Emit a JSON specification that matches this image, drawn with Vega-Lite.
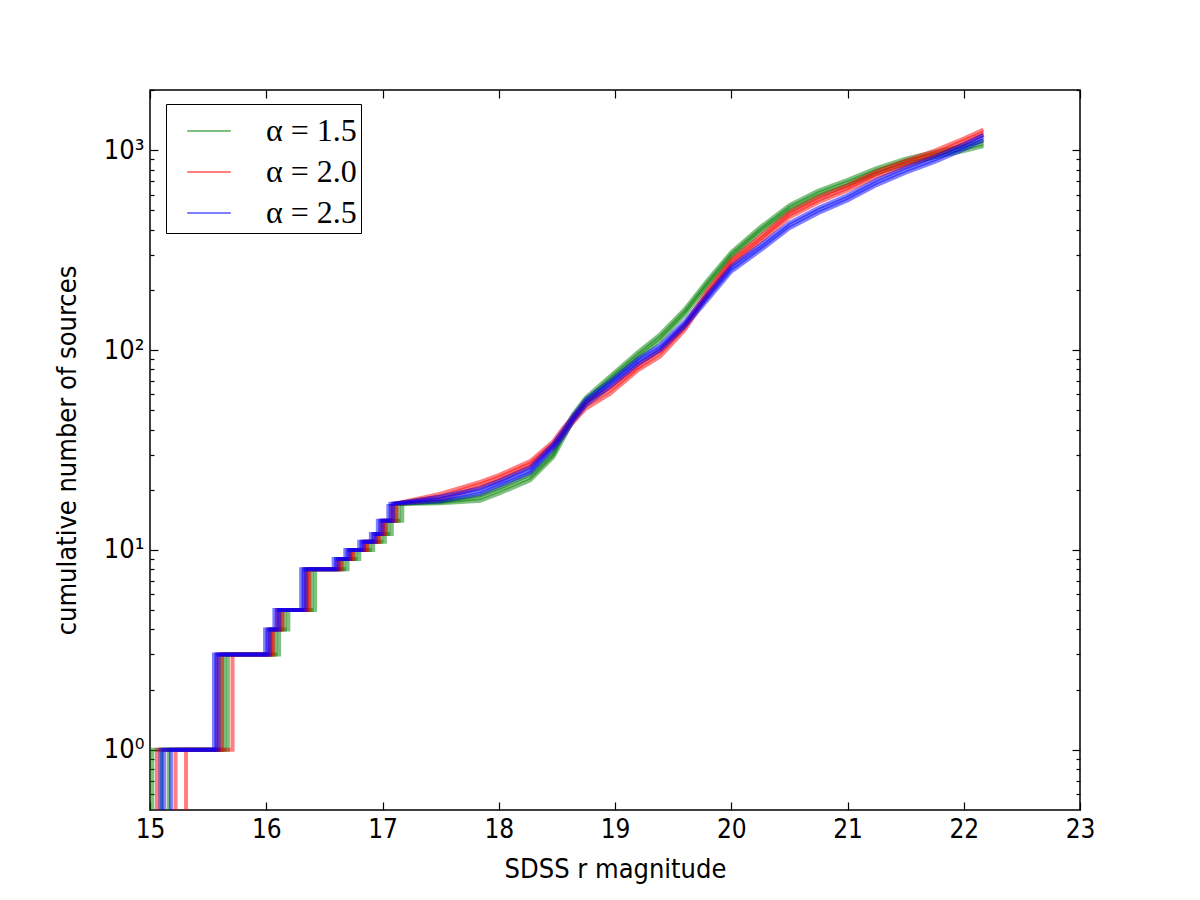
{
  "$schema": "https://vega.github.io/schema/vega-lite/v6.json",
  "width": 930,
  "height": 720,
  "autosize": {"type": "none"},
  "padding": {"left": 150, "top": 90, "right": 120, "bottom": 90},
  "background": "white",
  "config": {"view": {"stroke": "black", "strokeWidth": 1.5}, "font": "DejaVu Sans Condensed"},
  "datasets": {
    "steps": [
      {"a":"α = 1.5","r":"g1","x":15.02,"n":0.4},{"a":"α = 1.5","r":"g1","x":15.02,"n":1},{"a":"α = 1.5","r":"g1","x":15.61,"n":3},{"a":"α = 1.5","r":"g1","x":16.05,"n":4},{"a":"α = 1.5","r":"g1","x":16.13,"n":5},{"a":"α = 1.5","r":"g1","x":16.36,"n":8},{"a":"α = 1.5","r":"g1","x":16.64,"n":9},{"a":"α = 1.5","r":"g1","x":16.74,"n":10},{"a":"α = 1.5","r":"g1","x":16.86,"n":11},{"a":"α = 1.5","r":"g1","x":16.96,"n":12},{"a":"α = 1.5","r":"g1","x":17.02,"n":14},{"a":"α = 1.5","r":"g1","x":17.11,"n":17},
      {"a":"α = 1.5","r":"g2","x":15.10,"n":0.4},{"a":"α = 1.5","r":"g2","x":15.10,"n":1},{"a":"α = 1.5","r":"g2","x":15.64,"n":3},{"a":"α = 1.5","r":"g2","x":16.08,"n":4},{"a":"α = 1.5","r":"g2","x":16.16,"n":5},{"a":"α = 1.5","r":"g2","x":16.39,"n":8},{"a":"α = 1.5","r":"g2","x":16.67,"n":9},{"a":"α = 1.5","r":"g2","x":16.77,"n":10},{"a":"α = 1.5","r":"g2","x":16.89,"n":11},{"a":"α = 1.5","r":"g2","x":16.99,"n":12},{"a":"α = 1.5","r":"g2","x":17.05,"n":14},{"a":"α = 1.5","r":"g2","x":17.14,"n":17},
      {"a":"α = 1.5","r":"g3","x":15.16,"n":0.4},{"a":"α = 1.5","r":"g3","x":15.16,"n":1},{"a":"α = 1.5","r":"g3","x":15.67,"n":3},{"a":"α = 1.5","r":"g3","x":16.11,"n":4},{"a":"α = 1.5","r":"g3","x":16.19,"n":5},{"a":"α = 1.5","r":"g3","x":16.42,"n":8},{"a":"α = 1.5","r":"g3","x":16.70,"n":9},{"a":"α = 1.5","r":"g3","x":16.80,"n":10},{"a":"α = 1.5","r":"g3","x":16.92,"n":11},{"a":"α = 1.5","r":"g3","x":17.02,"n":12},{"a":"α = 1.5","r":"g3","x":17.08,"n":14},{"a":"α = 1.5","r":"g3","x":17.17,"n":17},
      {"a":"α = 2.0","r":"r1","x":15.06,"n":0.4},{"a":"α = 2.0","r":"r1","x":15.06,"n":1},{"a":"α = 2.0","r":"r1","x":15.58,"n":3},{"a":"α = 2.0","r":"r1","x":16.02,"n":4},{"a":"α = 2.0","r":"r1","x":16.10,"n":5},{"a":"α = 2.0","r":"r1","x":16.33,"n":8},{"a":"α = 2.0","r":"r1","x":16.61,"n":9},{"a":"α = 2.0","r":"r1","x":16.71,"n":10},{"a":"α = 2.0","r":"r1","x":16.83,"n":11},{"a":"α = 2.0","r":"r1","x":16.93,"n":12},{"a":"α = 2.0","r":"r1","x":16.99,"n":14},{"a":"α = 2.0","r":"r1","x":17.08,"n":17},
      {"a":"α = 2.0","r":"r2","x":15.22,"n":0.4},{"a":"α = 2.0","r":"r2","x":15.22,"n":1},{"a":"α = 2.0","r":"r2","x":15.62,"n":3},{"a":"α = 2.0","r":"r2","x":16.06,"n":4},{"a":"α = 2.0","r":"r2","x":16.14,"n":5},{"a":"α = 2.0","r":"r2","x":16.37,"n":8},{"a":"α = 2.0","r":"r2","x":16.65,"n":9},{"a":"α = 2.0","r":"r2","x":16.75,"n":10},{"a":"α = 2.0","r":"r2","x":16.87,"n":11},{"a":"α = 2.0","r":"r2","x":16.97,"n":12},{"a":"α = 2.0","r":"r2","x":17.03,"n":14},{"a":"α = 2.0","r":"r2","x":17.12,"n":17},
      {"a":"α = 2.0","r":"r3","x":15.31,"n":0.4},{"a":"α = 2.0","r":"r3","x":15.31,"n":1},{"a":"α = 2.0","r":"r3","x":15.71,"n":3},{"a":"α = 2.0","r":"r3","x":16.04,"n":4},{"a":"α = 2.0","r":"r3","x":16.12,"n":5},{"a":"α = 2.0","r":"r3","x":16.35,"n":8},{"a":"α = 2.0","r":"r3","x":16.63,"n":9},{"a":"α = 2.0","r":"r3","x":16.73,"n":10},{"a":"α = 2.0","r":"r3","x":16.85,"n":11},{"a":"α = 2.0","r":"r3","x":16.95,"n":12},{"a":"α = 2.0","r":"r3","x":17.01,"n":14},{"a":"α = 2.0","r":"r3","x":17.10,"n":17},
      {"a":"α = 2.5","r":"b1","x":15.09,"n":0.4},{"a":"α = 2.5","r":"b1","x":15.09,"n":1},{"a":"α = 2.5","r":"b1","x":15.55,"n":3},{"a":"α = 2.5","r":"b1","x":15.99,"n":4},{"a":"α = 2.5","r":"b1","x":16.07,"n":5},{"a":"α = 2.5","r":"b1","x":16.30,"n":8},{"a":"α = 2.5","r":"b1","x":16.58,"n":9},{"a":"α = 2.5","r":"b1","x":16.68,"n":10},{"a":"α = 2.5","r":"b1","x":16.80,"n":11},{"a":"α = 2.5","r":"b1","x":16.90,"n":12},{"a":"α = 2.5","r":"b1","x":16.96,"n":14},{"a":"α = 2.5","r":"b1","x":17.05,"n":17},
      {"a":"α = 2.5","r":"b2","x":15.12,"n":0.4},{"a":"α = 2.5","r":"b2","x":15.12,"n":1},{"a":"α = 2.5","r":"b2","x":15.57,"n":3},{"a":"α = 2.5","r":"b2","x":16.01,"n":4},{"a":"α = 2.5","r":"b2","x":16.09,"n":5},{"a":"α = 2.5","r":"b2","x":16.32,"n":8},{"a":"α = 2.5","r":"b2","x":16.60,"n":9},{"a":"α = 2.5","r":"b2","x":16.70,"n":10},{"a":"α = 2.5","r":"b2","x":16.82,"n":11},{"a":"α = 2.5","r":"b2","x":16.92,"n":12},{"a":"α = 2.5","r":"b2","x":16.98,"n":14},{"a":"α = 2.5","r":"b2","x":17.07,"n":17},
      {"a":"α = 2.5","r":"b3","x":15.18,"n":0.4},{"a":"α = 2.5","r":"b3","x":15.18,"n":1},{"a":"α = 2.5","r":"b3","x":15.59,"n":3},{"a":"α = 2.5","r":"b3","x":16.03,"n":4},{"a":"α = 2.5","r":"b3","x":16.11,"n":5},{"a":"α = 2.5","r":"b3","x":16.34,"n":8},{"a":"α = 2.5","r":"b3","x":16.62,"n":9},{"a":"α = 2.5","r":"b3","x":16.72,"n":10},{"a":"α = 2.5","r":"b3","x":16.84,"n":11},{"a":"α = 2.5","r":"b3","x":16.94,"n":12},{"a":"α = 2.5","r":"b3","x":17.00,"n":14},{"a":"α = 2.5","r":"b3","x":17.09,"n":17}
    ],
    "smooth": [
      {"a":"α = 1.5","r":"g1","x":17.11,"n":17},{"a":"α = 1.5","r":"g1","x":17.5,"n":17.3},{"a":"α = 1.5","r":"g1","x":17.84,"n":18.2},{"a":"α = 1.5","r":"g1","x":18.0,"n":19.8},{"a":"α = 1.5","r":"g1","x":18.27,"n":23},{"a":"α = 1.5","r":"g1","x":18.47,"n":30},{"a":"α = 1.5","r":"g1","x":18.55,"n":37},{"a":"α = 1.5","r":"g1","x":18.64,"n":46},{"a":"α = 1.5","r":"g1","x":18.75,"n":56},{"a":"α = 1.5","r":"g1","x":18.96,"n":72},{"a":"α = 1.5","r":"g1","x":19.2,"n":95},{"a":"α = 1.5","r":"g1","x":19.39,"n":116},{"a":"α = 1.5","r":"g1","x":19.6,"n":155},{"a":"α = 1.5","r":"g1","x":19.8,"n":218},{"a":"α = 1.5","r":"g1","x":20.0,"n":300},{"a":"α = 1.5","r":"g1","x":20.25,"n":400},{"a":"α = 1.5","r":"g1","x":20.5,"n":515},{"a":"α = 1.5","r":"g1","x":20.75,"n":610},{"a":"α = 1.5","r":"g1","x":21.0,"n":690},{"a":"α = 1.5","r":"g1","x":21.25,"n":790},{"a":"α = 1.5","r":"g1","x":21.5,"n":880},{"a":"α = 1.5","r":"g1","x":21.75,"n":950},{"a":"α = 1.5","r":"g1","x":22.0,"n":1020},{"a":"α = 1.5","r":"g1","x":22.17,"n":1080},
      {"a":"α = 1.5","r":"g2","x":17.14,"n":17},{"a":"α = 1.5","r":"g2","x":17.5,"n":17.1},{"a":"α = 1.5","r":"g2","x":17.84,"n":17.6},{"a":"α = 1.5","r":"g2","x":18.0,"n":19.1},{"a":"α = 1.5","r":"g2","x":18.27,"n":22.3},{"a":"α = 1.5","r":"g2","x":18.47,"n":29.2},{"a":"α = 1.5","r":"g2","x":18.55,"n":35.5},{"a":"α = 1.5","r":"g2","x":18.64,"n":44.5},{"a":"α = 1.5","r":"g2","x":18.75,"n":54.3},{"a":"α = 1.5","r":"g2","x":18.96,"n":69.8},{"a":"α = 1.5","r":"g2","x":19.2,"n":92},{"a":"α = 1.5","r":"g2","x":19.39,"n":112},{"a":"α = 1.5","r":"g2","x":19.6,"n":150},{"a":"α = 1.5","r":"g2","x":19.8,"n":211},{"a":"α = 1.5","r":"g2","x":20.0,"n":291},{"a":"α = 1.5","r":"g2","x":20.25,"n":388},{"a":"α = 1.5","r":"g2","x":20.5,"n":499},{"a":"α = 1.5","r":"g2","x":20.75,"n":592},{"a":"α = 1.5","r":"g2","x":21.0,"n":669},{"a":"α = 1.5","r":"g2","x":21.25,"n":766},{"a":"α = 1.5","r":"g2","x":21.5,"n":854},{"a":"α = 1.5","r":"g2","x":21.75,"n":921},{"a":"α = 1.5","r":"g2","x":22.0,"n":989},{"a":"α = 1.5","r":"g2","x":22.17,"n":1048},
      {"a":"α = 1.5","r":"g3","x":17.17,"n":17},{"a":"α = 1.5","r":"g3","x":17.5,"n":17.5},{"a":"α = 1.5","r":"g3","x":17.84,"n":18.7},{"a":"α = 1.5","r":"g3","x":18.0,"n":20.4},{"a":"α = 1.5","r":"g3","x":18.27,"n":23.8},{"a":"α = 1.5","r":"g3","x":18.47,"n":30.9},{"a":"α = 1.5","r":"g3","x":18.55,"n":38.5},{"a":"α = 1.5","r":"g3","x":18.64,"n":47.8},{"a":"α = 1.5","r":"g3","x":18.75,"n":58},{"a":"α = 1.5","r":"g3","x":18.96,"n":74.2},{"a":"α = 1.5","r":"g3","x":19.2,"n":98},{"a":"α = 1.5","r":"g3","x":19.39,"n":120},{"a":"α = 1.5","r":"g3","x":19.6,"n":160},{"a":"α = 1.5","r":"g3","x":19.8,"n":225},{"a":"α = 1.5","r":"g3","x":20.0,"n":309},{"a":"α = 1.5","r":"g3","x":20.25,"n":412},{"a":"α = 1.5","r":"g3","x":20.5,"n":530},{"a":"α = 1.5","r":"g3","x":20.75,"n":628},{"a":"α = 1.5","r":"g3","x":21.0,"n":711},{"a":"α = 1.5","r":"g3","x":21.25,"n":814},{"a":"α = 1.5","r":"g3","x":21.5,"n":906},{"a":"α = 1.5","r":"g3","x":21.75,"n":979},{"a":"α = 1.5","r":"g3","x":22.0,"n":1051},{"a":"α = 1.5","r":"g3","x":22.17,"n":1112},
      {"a":"α = 2.0","r":"r1","x":17.08,"n":17},{"a":"α = 2.0","r":"r1","x":17.5,"n":18.5},{"a":"α = 2.0","r":"r1","x":17.84,"n":21.3},{"a":"α = 2.0","r":"r1","x":18.0,"n":23},{"a":"α = 2.0","r":"r1","x":18.27,"n":27},{"a":"α = 2.0","r":"r1","x":18.47,"n":34},{"a":"α = 2.0","r":"r1","x":18.55,"n":39},{"a":"α = 2.0","r":"r1","x":18.64,"n":45},{"a":"α = 2.0","r":"r1","x":18.75,"n":53},{"a":"α = 2.0","r":"r1","x":18.96,"n":63},{"a":"α = 2.0","r":"r1","x":19.2,"n":82},{"a":"α = 2.0","r":"r1","x":19.39,"n":97},{"a":"α = 2.0","r":"r1","x":19.6,"n":130},{"a":"α = 2.0","r":"r1","x":19.8,"n":195},{"a":"α = 2.0","r":"r1","x":20.0,"n":275},{"a":"α = 2.0","r":"r1","x":20.25,"n":360},{"a":"α = 2.0","r":"r1","x":20.5,"n":475},{"a":"α = 2.0","r":"r1","x":20.75,"n":565},{"a":"α = 2.0","r":"r1","x":21.0,"n":648},{"a":"α = 2.0","r":"r1","x":21.25,"n":760},{"a":"α = 2.0","r":"r1","x":21.5,"n":860},{"a":"α = 2.0","r":"r1","x":21.75,"n":965},{"a":"α = 2.0","r":"r1","x":22.0,"n":1110},{"a":"α = 2.0","r":"r1","x":22.17,"n":1230},
      {"a":"α = 2.0","r":"r2","x":17.12,"n":17},{"a":"α = 2.0","r":"r2","x":17.5,"n":17.9},{"a":"α = 2.0","r":"r2","x":17.84,"n":20.6},{"a":"α = 2.0","r":"r2","x":18.0,"n":22.3},{"a":"α = 2.0","r":"r2","x":18.27,"n":26.2},{"a":"α = 2.0","r":"r2","x":18.47,"n":33},{"a":"α = 2.0","r":"r2","x":18.55,"n":37.5},{"a":"α = 2.0","r":"r2","x":18.64,"n":43.5},{"a":"α = 2.0","r":"r2","x":18.75,"n":51},{"a":"α = 2.0","r":"r2","x":18.96,"n":60.5},{"a":"α = 2.0","r":"r2","x":19.2,"n":79.5},{"a":"α = 2.0","r":"r2","x":19.39,"n":93},{"a":"α = 2.0","r":"r2","x":19.6,"n":126},{"a":"α = 2.0","r":"r2","x":19.8,"n":189},{"a":"α = 2.0","r":"r2","x":20.0,"n":267},{"a":"α = 2.0","r":"r2","x":20.25,"n":349},{"a":"α = 2.0","r":"r2","x":20.5,"n":461},{"a":"α = 2.0","r":"r2","x":20.75,"n":548},{"a":"α = 2.0","r":"r2","x":21.0,"n":629},{"a":"α = 2.0","r":"r2","x":21.25,"n":737},{"a":"α = 2.0","r":"r2","x":21.5,"n":834},{"a":"α = 2.0","r":"r2","x":21.75,"n":936},{"a":"α = 2.0","r":"r2","x":22.0,"n":1077},{"a":"α = 2.0","r":"r2","x":22.17,"n":1193},
      {"a":"α = 2.0","r":"r3","x":17.10,"n":17},{"a":"α = 2.0","r":"r3","x":17.5,"n":19.1},{"a":"α = 2.0","r":"r3","x":17.84,"n":21.9},{"a":"α = 2.0","r":"r3","x":18.0,"n":23.7},{"a":"α = 2.0","r":"r3","x":18.27,"n":27.8},{"a":"α = 2.0","r":"r3","x":18.47,"n":35},{"a":"α = 2.0","r":"r3","x":18.55,"n":40.5},{"a":"α = 2.0","r":"r3","x":18.64,"n":46.5},{"a":"α = 2.0","r":"r3","x":18.75,"n":55},{"a":"α = 2.0","r":"r3","x":18.96,"n":65},{"a":"α = 2.0","r":"r3","x":19.2,"n":84.5},{"a":"α = 2.0","r":"r3","x":19.39,"n":100},{"a":"α = 2.0","r":"r3","x":19.6,"n":134},{"a":"α = 2.0","r":"r3","x":19.8,"n":201},{"a":"α = 2.0","r":"r3","x":20.0,"n":283},{"a":"α = 2.0","r":"r3","x":20.25,"n":371},{"a":"α = 2.0","r":"r3","x":20.5,"n":489},{"a":"α = 2.0","r":"r3","x":20.75,"n":582},{"a":"α = 2.0","r":"r3","x":21.0,"n":667},{"a":"α = 2.0","r":"r3","x":21.25,"n":783},{"a":"α = 2.0","r":"r3","x":21.5,"n":886},{"a":"α = 2.0","r":"r3","x":21.75,"n":994},{"a":"α = 2.0","r":"r3","x":22.0,"n":1143},{"a":"α = 2.0","r":"r3","x":22.17,"n":1267},
      {"a":"α = 2.5","r":"b1","x":17.05,"n":17},{"a":"α = 2.5","r":"b1","x":17.5,"n":18},{"a":"α = 2.5","r":"b1","x":17.84,"n":19.7},{"a":"α = 2.5","r":"b1","x":18.0,"n":21.5},{"a":"α = 2.5","r":"b1","x":18.27,"n":25},{"a":"α = 2.5","r":"b1","x":18.47,"n":33},{"a":"α = 2.5","r":"b1","x":18.55,"n":38},{"a":"α = 2.5","r":"b1","x":18.64,"n":45.5},{"a":"α = 2.5","r":"b1","x":18.75,"n":55},{"a":"α = 2.5","r":"b1","x":18.96,"n":68},{"a":"α = 2.5","r":"b1","x":19.2,"n":88},{"a":"α = 2.5","r":"b1","x":19.39,"n":103},{"a":"α = 2.5","r":"b1","x":19.6,"n":135},{"a":"α = 2.5","r":"b1","x":19.8,"n":185},{"a":"α = 2.5","r":"b1","x":20.0,"n":255},{"a":"α = 2.5","r":"b1","x":20.25,"n":325},{"a":"α = 2.5","r":"b1","x":20.5,"n":420},{"a":"α = 2.5","r":"b1","x":20.75,"n":500},{"a":"α = 2.5","r":"b1","x":21.0,"n":578},{"a":"α = 2.5","r":"b1","x":21.25,"n":690},{"a":"α = 2.5","r":"b1","x":21.5,"n":795},{"a":"α = 2.5","r":"b1","x":21.75,"n":900},{"a":"α = 2.5","r":"b1","x":22.0,"n":1040},{"a":"α = 2.5","r":"b1","x":22.17,"n":1160},
      {"a":"α = 2.5","r":"b2","x":17.07,"n":17},{"a":"α = 2.5","r":"b2","x":17.5,"n":17.5},{"a":"α = 2.5","r":"b2","x":17.84,"n":19.1},{"a":"α = 2.5","r":"b2","x":18.0,"n":20.9},{"a":"α = 2.5","r":"b2","x":18.27,"n":24.3},{"a":"α = 2.5","r":"b2","x":18.47,"n":32},{"a":"α = 2.5","r":"b2","x":18.55,"n":36.5},{"a":"α = 2.5","r":"b2","x":18.64,"n":44},{"a":"α = 2.5","r":"b2","x":18.75,"n":53},{"a":"α = 2.5","r":"b2","x":18.96,"n":66},{"a":"α = 2.5","r":"b2","x":19.2,"n":85.4},{"a":"α = 2.5","r":"b2","x":19.39,"n":100},{"a":"α = 2.5","r":"b2","x":19.6,"n":131},{"a":"α = 2.5","r":"b2","x":19.8,"n":179},{"a":"α = 2.5","r":"b2","x":20.0,"n":247},{"a":"α = 2.5","r":"b2","x":20.25,"n":315},{"a":"α = 2.5","r":"b2","x":20.5,"n":407},{"a":"α = 2.5","r":"b2","x":20.75,"n":485},{"a":"α = 2.5","r":"b2","x":21.0,"n":561},{"a":"α = 2.5","r":"b2","x":21.25,"n":669},{"a":"α = 2.5","r":"b2","x":21.5,"n":771},{"a":"α = 2.5","r":"b2","x":21.75,"n":873},{"a":"α = 2.5","r":"b2","x":22.0,"n":1009},{"a":"α = 2.5","r":"b2","x":22.17,"n":1125},
      {"a":"α = 2.5","r":"b3","x":17.09,"n":17},{"a":"α = 2.5","r":"b3","x":17.5,"n":18.5},{"a":"α = 2.5","r":"b3","x":17.84,"n":20.3},{"a":"α = 2.5","r":"b3","x":18.0,"n":22.1},{"a":"α = 2.5","r":"b3","x":18.27,"n":25.8},{"a":"α = 2.5","r":"b3","x":18.47,"n":34},{"a":"α = 2.5","r":"b3","x":18.55,"n":39.5},{"a":"α = 2.5","r":"b3","x":18.64,"n":47},{"a":"α = 2.5","r":"b3","x":18.75,"n":57},{"a":"α = 2.5","r":"b3","x":18.96,"n":70},{"a":"α = 2.5","r":"b3","x":19.2,"n":90.6},{"a":"α = 2.5","r":"b3","x":19.39,"n":106},{"a":"α = 2.5","r":"b3","x":19.6,"n":139},{"a":"α = 2.5","r":"b3","x":19.8,"n":191},{"a":"α = 2.5","r":"b3","x":20.0,"n":263},{"a":"α = 2.5","r":"b3","x":20.25,"n":335},{"a":"α = 2.5","r":"b3","x":20.5,"n":433},{"a":"α = 2.5","r":"b3","x":20.75,"n":515},{"a":"α = 2.5","r":"b3","x":21.0,"n":595},{"a":"α = 2.5","r":"b3","x":21.25,"n":711},{"a":"α = 2.5","r":"b3","x":21.5,"n":819},{"a":"α = 2.5","r":"b3","x":21.75,"n":927},{"a":"α = 2.5","r":"b3","x":22.0,"n":1071},{"a":"α = 2.5","r":"b3","x":22.17,"n":1195}
    ]
  },
  "layer": [
    {
      "data": {"name": "steps"},
      "mark": {"type": "line", "interpolate": "step-after", "clip": true, "strokeWidth": 4, "opacity": 0.5},
      "encoding": {
        "x": {"field": "x", "type": "quantitative",
          "scale": {"domain": [15, 23], "nice": false, "zero": false},
          "axis": {"orient": "bottom", "values": [15,16,17,18,19,20,21,22,23], "format": "d",
            "tickSize": -8, "tickColor": "black", "tickWidth": 1.2, "domain": false, "grid": false,
            "labelFont": "DejaVu Sans Condensed", "labelFontSize": 26, "labelColor": "black", "labelPadding": 14,
            "labelFlush": false, "labelOverlap": false,
            "title": "SDSS r magnitude", "titleFont": "DejaVu Sans Condensed", "titleFontSize": 27,
            "titleFontWeight": "normal", "titleColor": "black", "titlePadding": 14}},
        "y": {"field": "n", "type": "quantitative",
          "scale": {"type": "log", "domain": [0.5, 2000], "nice": false},
          "axis": {"orient": "left",
            "values": [0.6,0.7,0.8,0.9,1,2,3,4,5,6,7,8,9,10,20,30,40,50,60,70,80,90,100,200,300,400,500,600,700,800,900,1000,2000],
            "labelExpr": "datum.value == 1 ? '10⁰' : datum.value == 10 ? '10¹' : datum.value == 100 ? '10²' : datum.value == 1000 ? '10³' : ''",
            "tickSize": {"condition": {"test": "datum.value == 1 || datum.value == 10 || datum.value == 100 || datum.value == 1000", "value": -8}, "value": -4},
            "tickColor": "black", "tickWidth": 1.2, "domain": false, "grid": false,
            "labelFont": "DejaVu Sans Condensed", "labelFontSize": 27, "labelColor": "black", "labelPadding": 14,
            "labelOverlap": false, "labelFlush": false,
            "title": "cumulative number of sources", "titleFont": "DejaVu Sans Condensed", "titleFontSize": 27,
            "titleFontWeight": "normal", "titleColor": "black", "titlePadding": 22}},
        "color": {"field": "a", "type": "nominal",
          "scale": {"domain": ["α = 1.5", "α = 2.0", "α = 2.5"], "range": ["#008000", "#ff0000", "#0000ff"]},
          "legend": {"orient": "none", "legendX": 16, "legendY": 14, "title": null,
            "strokeColor": "black", "fillColor": "white", "padding": 4, "symbolOffset": 16,
            "symbolType": "stroke", "symbolSize": 1900, "symbolStrokeWidth": 2, "symbolOpacity": 1,
            "labelFont": "Liberation Serif", "labelFontSize": 32, "labelColor": "black", "labelOffset": 34,
            "rowPadding": 2}},
        "detail": {"field": "r"},
        "order": [{"field": "x", "type": "quantitative"}, {"field": "n", "type": "quantitative"}]
      }
    },
    {
      "data": {"name": "smooth"},
      "mark": {"type": "line", "clip": true, "strokeWidth": 4, "opacity": 0.5},
      "encoding": {
        "x": {"field": "x", "type": "quantitative",
          "axis": {"orient": "top", "values": [15,16,17,18,19,20,21,22,23], "labels": false, "title": null,
            "tickSize": -8, "tickColor": "black", "tickWidth": 1.2, "domain": false, "grid": false}},
        "y": {"field": "n", "type": "quantitative",
          "axis": {"orient": "right", "labels": false, "title": null,
            "values": [0.6,0.7,0.8,0.9,1,2,3,4,5,6,7,8,9,10,20,30,40,50,60,70,80,90,100,200,300,400,500,600,700,800,900,1000,2000],
            "tickSize": {"condition": {"test": "datum.value == 1 || datum.value == 10 || datum.value == 100 || datum.value == 1000", "value": -8}, "value": -4},
            "tickColor": "black", "tickWidth": 1.2, "domain": false, "grid": false}},
        "color": {"field": "a", "type": "nominal"},
        "detail": {"field": "r"},
        "order": {"field": "x", "type": "quantitative"}
      }
    }
  ],
  "resolve": {"axis": {"x": "independent", "y": "independent"}}
}
